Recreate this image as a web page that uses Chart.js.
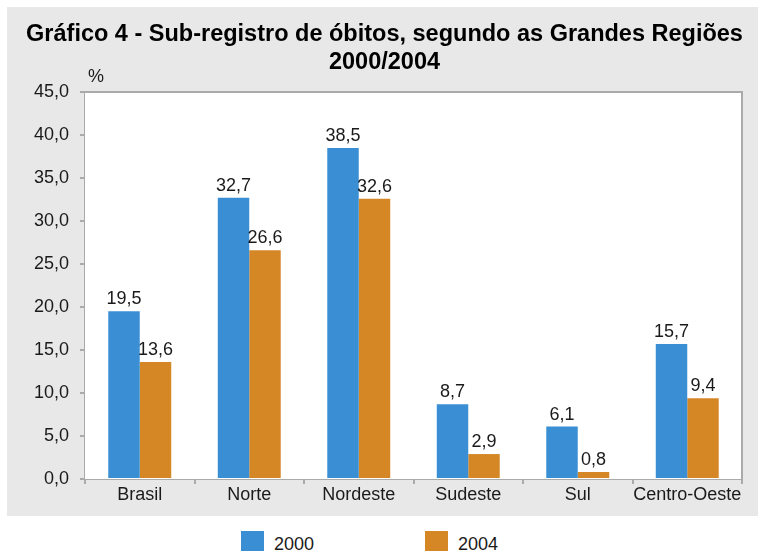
<!DOCTYPE html>
<html>
<head>
<meta charset="utf-8">
<script src="https://cdn.jsdelivr.net/npm/chart.js@4"></script>
<style>
  html, body { margin: 0; padding: 0; background: #fff; }
  body { width: 758px; height: 551px; position: relative; overflow: hidden; font-family: "Liberation Sans", Arial, sans-serif; }
  #box { position: absolute; left: 7px; top: 7px; width: 751px; height: 509px; background: #e8e8e8; }
  #legend { position: absolute; left: 241px; top: 531px; display: flex; }
  .lg-item { width: 184px; display: flex; align-items: flex-start; font-size: 18px; color: #1a1a1a; }
  .lg-box { width: 23px; height: 23px; margin-right: 10px; }
  .lg-text { line-height: 20px; margin-top: 3px; }
</style>
</head>
<body>
<div id="box"><canvas id="chart" width="751" height="509"></canvas></div>
<div id="legend"></div>
<script>
// ─────────────────────────────────────────────
//  DATA
// ─────────────────────────────────────────────
const regions   = ['Brasil', 'Norte', 'Nordeste', 'Sudeste', 'Sul', 'Centro-Oeste'];
const years     = ['2000', '2004'];
const vals2000  = [19.5, 32.7, 38.5, 8.7, 6.1, 15.7];
const vals2004  = [13.6, 26.6, 32.6, 2.9, 0.8, 9.4];
const yTicksMax = 45;
const yStep     = 5;

const COL_2000 = '#3a8fd4';
const COL_2004 = '#d58726';
const AXIS_GREY = '#aaaaaa';
const TEXT_COL  = '#1a1a1a';
const FONT      = '"Liberation Sans", Arial, sans-serif';

const fmt = v => Number(v).toFixed(1).replace('.', ',');

// plot frame (white fill, top/right border) + unit label
const framePlugin = {
  id: 'frame',
  afterLayout(chart) {
    // title is centred on the whole grey panel, not on the plot
    const t = chart.titleBlock;
    t.right = t.left + 755;
  },
  beforeDatasetsDraw(chart) {
    const { ctx, chartArea: a } = chart;
    ctx.save();
    ctx.fillStyle = '#fff';
    ctx.fillRect(a.left, a.top, a.right - a.left, a.bottom - a.top);
    ctx.restore();
  },
  afterDraw(chart) {
    const { ctx, chartArea: a } = chart;
    ctx.save();
    ctx.strokeStyle = AXIS_GREY;
    ctx.lineWidth = 2;
    ctx.beginPath();
    ctx.moveTo(a.left, a.top);
    ctx.lineTo(a.right, a.top);
    ctx.lineTo(a.right, a.bottom);
    ctx.stroke();
    ctx.fillStyle = TEXT_COL;
    ctx.font = '18px ' + FONT;
    ctx.textAlign = 'left';
    ctx.textBaseline = 'alphabetic';
    ctx.fillText('%', a.left + 3, a.top - 10);
    ctx.restore();
  }
};

// value labels above bars
const valueLabels = {
  id: 'valueLabels',
  afterDatasetsDraw(chart) {
    const { ctx } = chart;
    ctx.save();
    ctx.fillStyle = TEXT_COL;
    ctx.font = '18px ' + FONT;
    ctx.textAlign = 'center';
    ctx.textBaseline = 'alphabetic';
    chart.data.datasets.forEach((ds, i) => {
      chart.getDatasetMeta(i).data.forEach((bar, j) => {
        ctx.fillText(fmt(ds.data[j]), bar.x, bar.y - 7);
      });
    });
    ctx.restore();
  }
};

const chart = new Chart(document.getElementById('chart').getContext('2d'), {
  type: 'bar',
  data: {
    labels: regions,
    datasets: [
      { label: years[0], data: vals2000, backgroundColor: COL_2000, borderWidth: 0 },
      { label: years[1], data: vals2004, backgroundColor: COL_2004, borderWidth: 0 }
    ]
  },
  options: {
    responsive: false,
    animation: false,
    layout: { padding: { left: 0, right: 16, top: 0, bottom: 0 } },
    datasets: { bar: { categoryPercentage: 0.575, barPercentage: 1 } },
    plugins: {
      legend: { display: false },
      tooltip: { enabled: false },
      title: {
        display: true,
        text: ['Gráfico 4 - Sub-registro de óbitos, segundo as Grandes Regiões', '2000/2004'],
        color: '#000',
        font: { family: FONT, size: 23.5, weight: 'bold', lineHeight: 1.2 },
        padding: { top: 13.5, bottom: 15.1 }
      }
    },
    scales: {
      x: {
        afterFit: s => { s.height = 37; },
        grid: { display: true, offset: true, drawOnChartArea: false, color: AXIS_GREY, lineWidth: 2, tickLength: 5 },
        border: { color: AXIS_GREY, width: 2 },
        ticks: { color: TEXT_COL, padding: 0, maxRotation: 0, minRotation: 0, autoSkip: false, font: { family: FONT, size: 18 } }
      },
      y: {
        min: 0,
        max: yTicksMax,
        afterFit: s => { s.width = 78; },
        grid: { display: true, drawOnChartArea: false, color: AXIS_GREY, lineWidth: 2, tickLength: 5 },
        border: { color: AXIS_GREY, width: 2 },
        ticks: { stepSize: yStep, color: TEXT_COL, padding: 11, font: { family: FONT, size: 18 }, callback: v => fmt(v) }
      }
    }
  },
  plugins: [framePlugin, valueLabels]
});

// legend built from the chart's own legend items
const legendEl = document.getElementById('legend');
legendEl.innerHTML = chart.options.plugins.legend.labels.generateLabels(chart).map(it =>
  `<div class="lg-item"><span class="lg-box" style="background:${it.fillStyle}"></span><span class="lg-text">${it.text}</span></div>`
).join('');
</script>
</body>
</html>
